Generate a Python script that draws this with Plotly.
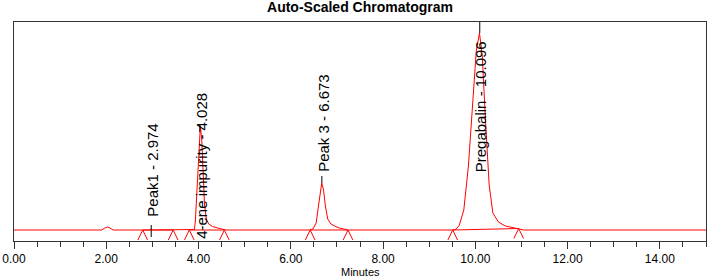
import plotly.graph_objects as go

# ---- data ----
# detector signal (arbitrary units) vs retention time (minutes)
time_min = [0.00, 1.90, 1.97, 2.03, 2.08, 2.15,
            2.93, 2.974, 3.02,
            3.88, 3.91, 3.93, 3.96, 3.99, 4.02, 4.04, 4.07, 4.10, 4.13, 4.17, 4.22, 4.30, 4.40, 4.50, 4.60,
            6.40, 6.48, 6.55, 6.60, 6.64, 6.67, 6.71, 6.75, 6.80, 6.87, 6.95, 7.05, 7.15, 7.25,
            9.50, 9.58, 9.65, 9.75, 9.85, 9.95, 10.02, 10.09, 10.15, 10.22, 10.30, 10.38, 10.50, 10.65, 10.80, 10.95, 11.05,
            15.00]
signal = [0.0, 0.0, 2.0, 3.0, 2.0, 0.0,
          0.0, 0.8, 0.0,
          0.0, 0.5, 8.0, 36.0, 70.0, 98.0, 104.0, 90.0, 56.0, 25.0, 11.0, 6.0, 3.5, 2.0, 1.0, 0.0,
          0.0, 1.0, 7.0, 24.0, 41.0, 47.0, 40.0, 24.0, 11.0, 6.0, 4.0, 2.0, 1.0, 0.0,
          0.0, 0.7, 4.5, 20.0, 64.0, 134.0, 179.0, 197.0, 174.0, 110.0, 45.0, 17.0, 8.0, 4.0, 2.5, 1.5, 0.0,
          0.0]

peak_names = ["Peak1", "4-ene impurity", "Peak 3", "Pregabalin"]
peak_rt = [2.974, 4.028, 6.673, 10.096]
peak_height = [0.8, 104.0, 47.0, 197.0]

# integration start/stop marks (minutes) and baseline levels
baseline_marks = [2.79, 3.45, 3.80, 4.56, 6.42, 7.24, 9.51, 10.94]
baseline_levels = [0.0, 0.0, 0.0, 0.0, 0.0, 0.0, 0.0, 1.5]

x_tick_vals = [0, 2, 4, 6, 8, 10, 12, 14]
x_tick_text = ["0.00", "2.00", "4.00", "6.00", "8.00", "10.00", "12.00", "14.00"]

# ---- styling / layout ----
RED = "#FF0000"
AXIS = "#333333"
Y_MIN, Y_MAX = -11, 208
LABEL_FONT = dict(family="Liberation Sans, Arial, sans-serif", size=15, color="black")
# where each label's text begins (data units) and its leader line span
label_text_base = [12, -10, 57, 57]
leader_lines = [(-7, 5), (98, 105), (47, 54), (197, Y_MAX)]

fig = go.Figure()

# integration baselines between start/stop marks
bx, by = [], []
for i in range(0, len(baseline_marks), 2):
    bx += [baseline_marks[i], baseline_marks[i + 1], None]
    by += [baseline_levels[i], baseline_levels[i + 1], None]
fig.add_trace(go.Scatter(x=bx, y=by, mode="lines", line=dict(color=RED, width=1),
                         hoverinfo="skip", showlegend=False))

# chromatogram signal
fig.add_trace(go.Scatter(x=time_min, y=signal, mode="lines",
                         line=dict(color=RED, width=1), showlegend=False))

# open triangles marking integration events
tri_half_w, tri_h = 0.105, 10
tx, ty = [], []
for m, lvl in zip(baseline_marks, baseline_levels):
    tx += [m - tri_half_w, m, m + tri_half_w, None]
    ty += [lvl - tri_h, lvl, lvl - tri_h, None]
fig.add_trace(go.Scatter(x=tx, y=ty, mode="lines", line=dict(color=RED, width=1),
                         hoverinfo="skip", showlegend=False))

# peak labels with leader lines
for name, rt, base, (y0, y1) in zip(peak_names, peak_rt, label_text_base, leader_lines):
    fig.add_shape(type="line", x0=rt, x1=rt, y0=y0, y1=y1,
                  line=dict(color="black", width=1), xref="x", yref="y")
    fig.add_annotation(x=rt, y=base, xref="x", yref="y", text=f"{name} - {rt:.3f}",
                       textangle=-90, showarrow=False, xanchor="center", yanchor="bottom",
                       font=LABEL_FONT, borderpad=0, xshift=1)

# x-axis title
fig.add_annotation(x=0.5, y=0, xref="paper", yref="paper", text="Minutes", showarrow=False,
                   yshift=-31, yanchor="middle", xanchor="center",
                   font=dict(family="Liberation Sans, Arial, sans-serif", size=11, color="black"))

fig.update_layout(
    width=709, height=278,
    margin=dict(l=13, r=2, t=22, b=37),
    paper_bgcolor="white", plot_bgcolor="white",
    title=dict(text="<b>Auto-Scaled Chromatogram</b>", x=0.5, xref="paper",
               y=1 - 7 / 278, yref="container", yanchor="middle", xanchor="center",
               font=dict(family="Liberation Sans, Arial, sans-serif", size=14, color="black")),
    showlegend=False,
    xaxis=dict(range=[0, 15], showgrid=False, zeroline=False,
               showline=True, linecolor=AXIS, linewidth=1, mirror=True,
               tickmode="array", tickvals=x_tick_vals, ticktext=x_tick_text,
               ticks="outside", ticklen=7, tickcolor=AXIS, tickwidth=1,
               minor=dict(dtick=0.5, ticks="outside", ticklen=5, tickcolor=AXIS, tickwidth=1, showgrid=False),
               tickfont=dict(family="Liberation Sans Narrow, Arial Narrow, Liberation Sans, sans-serif",
                             size=12, color="black")),
    yaxis=dict(range=[Y_MIN, Y_MAX], showgrid=False, zeroline=False,
               showline=True, linecolor=AXIS, linewidth=1, mirror=True,
               showticklabels=False, ticks=""),
)

fig.write_html("out.html", config={"displayModeBar": False},
               post_script="document.body.style.margin='0';")
